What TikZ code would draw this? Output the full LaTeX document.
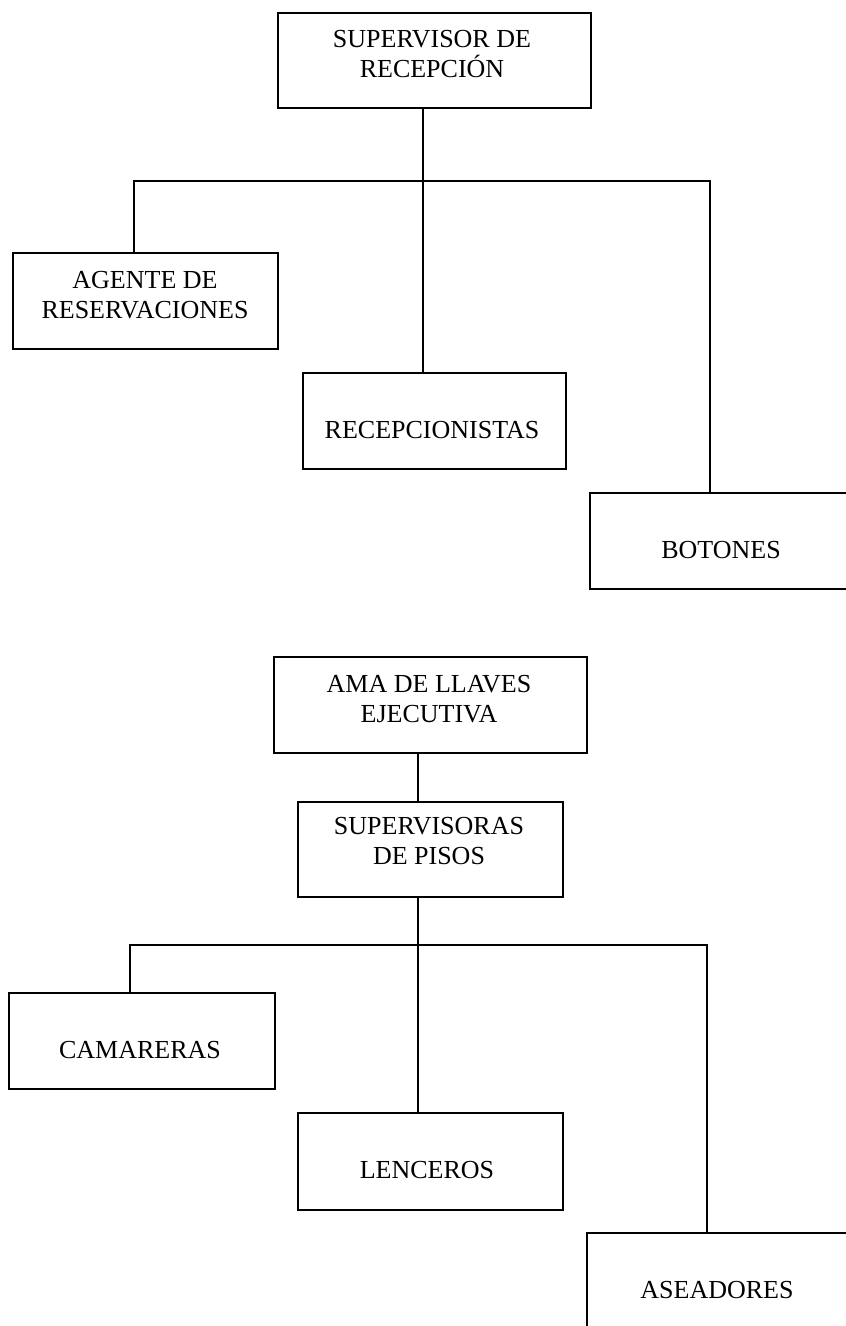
\documentclass[tikz,border=0pt]{standalone}
\usepackage{fontspec}
\setmainfont{Liberation Serif}
\begin{document}
\begin{tikzpicture}[x=1pt,y=-1pt,
  orgbox/.style={draw=black, line width=1.5pt, rectangle, inner sep=0pt, outer sep=0pt},
  lbl/.style={anchor=base, inner sep=0pt, font=\fontsize{26}{30}\selectfont, text=black},
  conn/.style={draw=black, line width=1.5pt}]
\useasboundingbox (0,0) rectangle (846,1326);
\clip (0,0) rectangle (846,1326);
% ---- top chart boxes
\node[orgbox, minimum width=313pt, minimum height=95pt] (sup) at (434.5,60.5) {};
\node[orgbox, minimum width=265pt, minimum height=96pt] (age) at (145.5,301) {};
\node[orgbox, minimum width=263pt, minimum height=96pt] (rec) at (434.5,421) {};
\node[orgbox, minimum width=262pt, minimum height=96pt] (bot) at (721,541) {};
% ---- bottom chart boxes
\node[orgbox, minimum width=313pt, minimum height=96pt] (ama) at (430.5,705) {};
\node[orgbox, minimum width=265pt, minimum height=95pt] (spi) at (430.5,849.5) {};
\node[orgbox, minimum width=266pt, minimum height=96pt] (cam) at (142,1041) {};
\node[orgbox, minimum width=265pt, minimum height=97pt] (len) at (430.5,1161.5) {};
\node[orgbox, minimum width=261pt, minimum height=97pt] (ase) at (717.5,1281.5) {};
% ---- labels
\node[lbl] (supa) at (432,47) {SUPERVISOR DE};
\node[lbl] (supb) at (432,77) {RECEPCIÓN};
\node[lbl] (agea) at (145,288) {AGENTE DE};
\node[lbl] (ageb) at (145,318) {RESERVACIONES};
\node[lbl] (reca) at (432,438) {RECEPCIONISTAS};
\node[lbl] (bota) at (721,558) {BOTONES};
\node[lbl] (amaa) at (429,692) {AMA DE LLAVES};
\node[lbl] (amab) at (429,722) {EJECUTIVA};
\node[lbl] (spia) at (429,834) {SUPERVISORAS};
\node[lbl] (spib) at (429,864) {DE PISOS};
\node[lbl] (cama) at (140,1058) {CAMARERAS};
\node[lbl] (lena) at (427,1178) {LENCEROS};
\node[lbl] (asea) at (717,1298) {ASEADORES};
% ---- junction coordinates
\coordinate (j1) at (423,181);
\coordinate (l1) at (134,181);
\coordinate (r1) at (710,181);
\coordinate (j2) at (418,945);
\coordinate (l2) at (130,945);
\coordinate (r2) at (707,945);
% ---- connectors top
\draw[conn] (j1 |- sup.south) -- (j1 |- rec.north);
\draw[conn] (l1 |- age.north) -- (l1) -- (r1) -- (r1 |- bot.north);
% ---- connectors bottom
\draw[conn] (j2 |- ama.south) -- (j2 |- spi.north);
\draw[conn] (j2 |- spi.south) -- (j2 |- len.north);
\draw[conn] (l2 |- cam.north) -- (l2) -- (r2) -- (r2 |- ase.north);
\end{tikzpicture}
\end{document}
